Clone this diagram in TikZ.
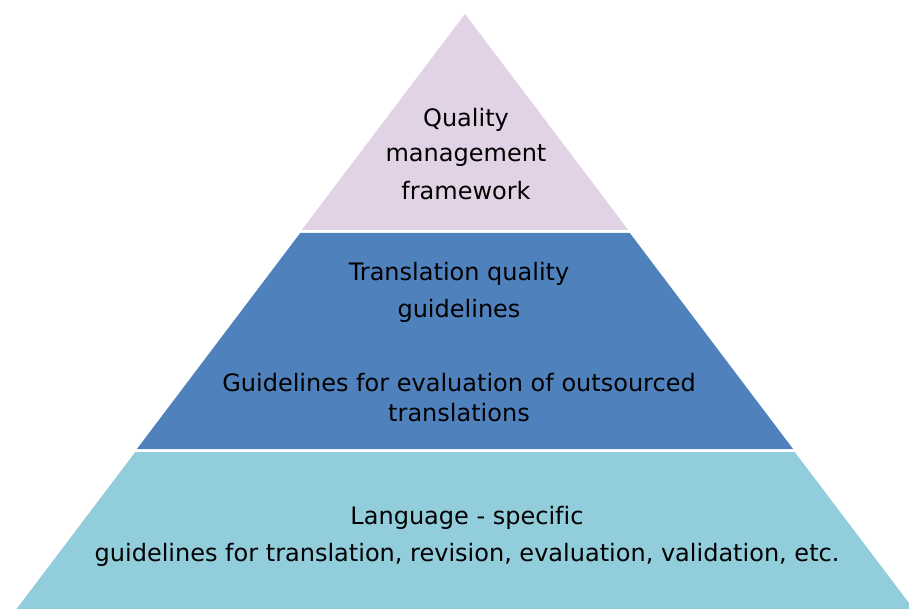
\documentclass[tikz,border=0pt]{standalone}
\usepackage{fontspec}
\setmainfont[Ligatures=NoCommon]{DejaVu Sans}
\definecolor{tierpink}{HTML}{E2D2E6}
\definecolor{tierblue}{HTML}{4F81BD}
\definecolor{tierlight}{HTML}{92CDDC}
\begin{document}
\begin{tikzpicture}[x=1pt,y=-1pt,
  lbl/.style={font=\fontsize{24}{28}\selectfont, text=black, inner sep=0pt, anchor=center}]
\useasboundingbox (0,0) rectangle (909,609);
\clip (0,0) rectangle (909,609);
% tiers of the pyramid: apex (465,14), slope 0.756 px per px
\fill[tierpink] (465,14) -- (628.3,230) -- (301.7,230) -- cycle;
\fill[tierblue] (300.2,233) -- (629.8,233) -- (793.1,449) -- (136.9,449) -- cycle;
\fill[tierlight] (135.3,452) -- (794.7,452) -- (915,611) -- (15,611) -- cycle;
% texts
\node[lbl] (q1) at (466,120) {Quality};
\node[lbl] (q2) at (466,156) {management};
\node[lbl] (q3) at (466,191) {framework};
\node[lbl] (t1) at (459,274) {Translation quality};
\node[lbl] (t2) at (459,311) {guidelines};
\node[lbl] (g1) at (459,383) {Guidelines for evaluation of outsourced};
\node[lbl] (g2) at (459,413) {translations};
\node[lbl] (l1) at (467,518) {Language - specific};
\node[lbl] (l2) at (467,555) {guidelines for translation, revision, evaluation, validation, etc.};
\end{tikzpicture}
\end{document}
